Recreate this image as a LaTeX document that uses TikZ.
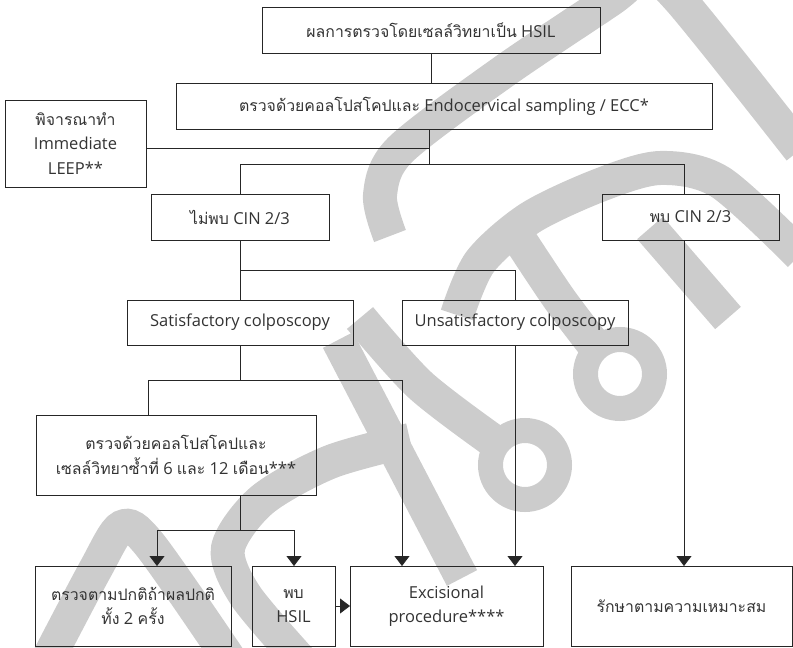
\documentclass[tikz,border=0pt]{standalone}
\usepackage{fontspec}
\setmainfont{Open Sans}
\newfontfamily\thaifont[Script=Thai,Scale=0.96]{Loma}
\newcommand{\tha}[1]{{\thaifont #1}}
\usetikzlibrary{arrows.meta}

\tikzset{
  box/.style={draw=black!85, line width=0.9pt, text=black!80, align=center,
    inner sep=2pt, outer sep=0pt, font=\fontsize{16.5}{24.5}\selectfont},
  link/.style={draw=black!85, line width=0.8pt},
  arr/.style={link, -{Triangle[width=15pt,length=10pt]}},
  wm/.style={draw=black!20, line width=34pt},
  wmring/.style={draw=black!20, line width=25pt},
}

\begin{document}
\begin{tikzpicture}[x=1pt,y=-1pt]
\useasboundingbox (0,0) rectangle (793,648);
\begin{scope}
\clip (0,0) rectangle (793,648);
% watermark
\draw[wm] plot[smooth] coordinates {(390,236) (380,195) (400,150) (503,72) (610,0) (645,-25) (680,0) (800,150)};
\draw[wm] plot[smooth] coordinates {(457,315) (480,262) (530,218) (600,185) (660,168) (720,182) (800,255)};
\draw[wm] (650,228) -- (728,318);
\draw[wm] plot[smooth] coordinates {(520,240) (560,300) (598,350)};
\draw[wmring] (620,374) circle (34.5);
\draw[wm] plot[smooth] coordinates {(360,318) (420,385) (492,440)};
\draw[wmring] (525,465) circle (34.5);
\draw[wm] (338,340) -- (462,578);
\draw[wm] plot[smooth] coordinates {(410,440) (330,462) (262,500) (228,548) (245,595) (300,660)};
\draw[wm] plot[smooth] coordinates {(45,665) (95,570) (122,527) (150,545) (230,660)};
\end{scope}

% boxes
\node[box, minimum width=338pt, minimum height=46pt] (res) at (431,30) {\tha{ผลการตรวจโดยเซลล์วิทยาเป็น} HSIL};
\node[box, minimum width=536pt, minimum height=46pt] (colpo) at (444,106) {\tha{ตรวจด้วยคอลโปสโคปและ} Endocervical sampling / ECC*};
\node[box, minimum width=141pt, minimum height=87pt] (leep) at (75.5,143.5) {\tha{พิจารณาทำ}\\Immediate\\LEEP**};
\node[box, minimum width=178pt, minimum height=46pt] (nocin) at (240,217) {\tha{ไม่พบ} CIN 2/3};
\node[box, minimum width=177pt, minimum height=46pt] (cin) at (690.5,217) {\tha{พบ} CIN 2/3};
\node[box, minimum width=226pt, minimum height=45pt] (sat) at (240,322.5) {Satisfactory colposcopy};
\node[box, minimum width=226pt, minimum height=45pt] (unsat) at (515,322.5) {Unsatisfactory colposcopy};
\node[box, minimum width=280pt, minimum height=80pt] (rep) at (176,455) {\tha{ตรวจด้วยคอลโปสโคปและ}\\\tha{เซลล์วิทยาซ้ำที่} 6 \tha{และ} 12 \tha{เดือน}***};
\node[box, minimum width=196pt, minimum height=80pt] (normal) at (133,606) {\tha{ตรวจตามปกติถ้าผลปกติ}\\\tha{ทั้ง} 2 \tha{ครั้ง}};
\node[box, minimum width=83pt, minimum height=80pt] (hsil) at (293.5,606) {\tha{พบ}\\HSIL};
\node[box, minimum width=193pt, minimum height=80pt] (excis) at (446.5,606) {Excisional\\procedure****};
\node[box, minimum width=221pt, minimum height=80pt] (treat) at (681.5,606) {\tha{รักษาตามความเหมาะสม}};

% junctions
\coordinate (jl) at (429,148);
\coordinate (j1) at (429,164);
\coordinate (jc) at (684,164);
\coordinate (j2) at (240,270);
\coordinate (ju) at (515,270);
\coordinate (j3) at (240,380);
\coordinate (jr) at (148,380);
\coordinate (je) at (402,380);
\coordinate (j4) at (240,530);
\coordinate (jn) at (157,530);
\coordinate (jh) at (294,530);

% connectors
\draw[link] (res.south) -- (res.south |- colpo.north);
\draw[link] (colpo.south -| j1) -- (j1);
\draw[link] (leep.east |- jl) -- (jl);
\draw[link] (nocin.north) -- (nocin.north |- j1) -- (jc) -- (jc |- cin.north);
\draw[link] (nocin.south) -- (sat.north);
\draw[link] (j2) -- (ju) -- (unsat.north);
\draw[arr] (unsat.south) -- (unsat.south |- excis.north);
\draw[arr] (jc |- cin.south) -- (jc |- treat.north);
\draw[link] (sat.south) -- (j3);
\draw[link] (jr |- rep.north) -- (jr) -- (je);
\draw[arr] (je) -- (je |- excis.north);
\draw[link] (rep.south -| j4) -- (j4);
\draw[arr] (jn) -- (jn |- normal.north);
\draw[arr] (jn) -- (jh) -- (jh |- hsil.north);
\draw[arr] (hsil.east) -- (excis.west);

\end{tikzpicture}
\end{document}
